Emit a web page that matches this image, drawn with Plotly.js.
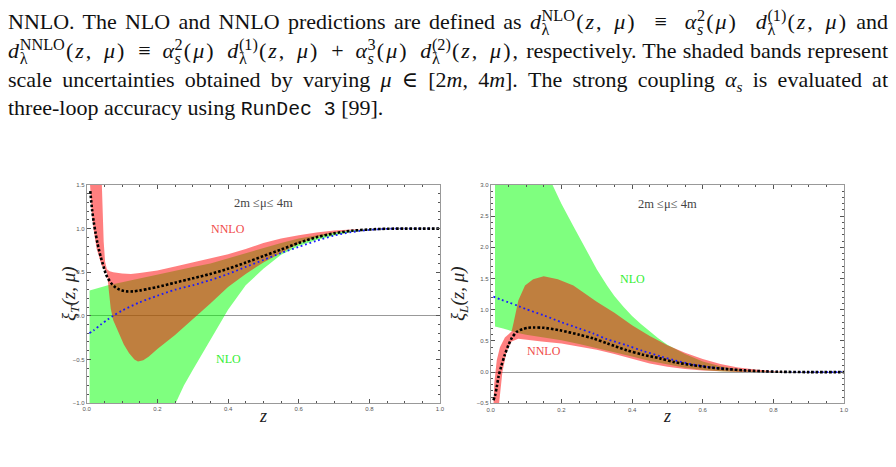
<!DOCTYPE html>
<html>
<head>
<meta charset="utf-8">
<script src="https://cdn.plot.ly/plotly-3.0.1.min.js"></script>
<style>
  html, body { margin: 0; padding: 0; background: #fff; }
  #page { position: relative; width: 896px; height: 467px; overflow: hidden; }
  #chart { position: absolute; left: 0; top: 0; width: 896px; height: 467px; }
  .ln { position: absolute; left: 8px; width: 880px; font-family: "Liberation Serif", "DejaVu Serif", serif;
        font-size: 22px; line-height: 28px; color: #111; text-align: justify; text-align-last: justify; }
  .ln.last { text-align: left; text-align-last: left; }
  .m { display: inline-flex; justify-content: space-between; align-items: baseline; white-space: nowrap;
       text-align: left; text-align-last: auto; vertical-align: baseline; }
  .m > span { white-space: nowrap; }
  .ss { display: inline-block; font-size: 0.74em; line-height: 0.84; vertical-align: -0.34em; margin-left: 0.04em; }
  .ss span { display: block; }
  .arg { word-spacing: 0.15em; letter-spacing: 0.09em; margin-left: 0.05em; }
  .tt { font-family: "Liberation Mono", "DejaVu Sans Mono", monospace; font-size: 0.9em; }
</style>
</head>
<body>
<div id="page">
  <div id="chart"></div>
  <div class="ln" style="top:8px">NNLO. The NLO and NNLO predictions are defined as <span class="m" style="width:318px"><span><i>d</i><span class="ss"><span>NLO</span><span>λ</span></span><span class="arg">(<i>z</i>, <i>μ</i>)</span></span><span>≡</span><span><i>α</i><span class="ss"><span>2</span><span><i>s</i></span></span><span class="arg">(<i>μ</i>)</span></span><span><i>d</i><span class="ss"><span>(1)</span><span>λ</span></span><span class="arg">(<i>z</i>, <i>μ</i>)</span></span></span> and</div>
  <div class="ln" style="top:37px"><span class="m" style="width:512px"><span><i>d</i><span class="ss"><span>NNLO</span><span>λ</span></span><span class="arg">(<i>z</i>, <i>μ</i>)</span></span><span>≡</span><span><i>α</i><span class="ss"><span>2</span><span><i>s</i></span></span><span class="arg">(<i>μ</i>)</span></span><span><i>d</i><span class="ss"><span>(1)</span><span>λ</span></span><span class="arg">(<i>z</i>, <i>μ</i>)</span></span><span>+</span><span><i>α</i><span class="ss"><span>3</span><span><i>s</i></span></span><span class="arg">(<i>μ</i>)</span></span><span><i>d</i><span class="ss"><span>(2)</span><span>λ</span></span><span class="arg">(<i>z</i>, <i>μ</i>),</span></span></span> respectively. The shaded bands represent</div>
  <div class="ln" style="top:66px">scale uncertainties obtained by varying <span style="white-space:nowrap"><i>μ</i> ∈ [2<i>m</i>, 4<i>m</i>].</span> The strong coupling <span style="white-space:nowrap"><i>α<sub style="font-size:0.7em">s</sub></i></span> is evaluated at</div>
  <div class="ln last" style="top:94px">three-loop accuracy using <span class="tt">RunDec 3</span> [99].</div>
</div>
<script>
// ---------- transverse fragmentation ratio xi_T(z, mu) ----------
// NLO scale band (mu = 2m ... 4m)
const zT_nloUp = [0.008, 0.03, 0.06, 0.1, 0.15, 0.2, 0.25, 0.3, 0.35, 0.4, 0.45, 0.5, 0.55, 0.6, 0.65, 0.7, 0.75, 0.8, 0.85, 0.9, 0.95, 1.0];
const T_nloUp  = [0.29, 0.315, 0.35, 0.385, 0.43, 0.47, 0.52, 0.56, 0.60, 0.66, 0.72, 0.78, 0.835, 0.885, 0.925, 0.958, 0.982, 0.995, 1.0, 1.0, 1.0, 1.0];
const zT_nloLo = [0.008, 0.1, 0.2, 0.25, 0.275, 0.3, 0.325, 0.35, 0.375, 0.4, 0.45, 0.5, 0.55, 0.6, 0.65, 0.7, 0.75, 0.8, 0.85, 0.9, 0.95, 1.0];
const T_nloLo  = [-3.5, -2.6, -1.45, -1.0, -0.80, -0.62, -0.45, -0.28, -0.1, 0.07, 0.35, 0.54, 0.70, 0.80, 0.87, 0.92, 0.96, 0.985, 0.996, 1.0, 1.0, 1.0];
// NNLO scale band
const zT_nnloUp = [0.008, 0.03, 0.042, 0.045, 0.048, 0.052, 0.057, 0.065, 0.075, 0.1, 0.125, 0.15, 0.2, 0.25, 0.3, 0.35, 0.4, 0.45, 0.5, 0.55, 0.6, 0.65, 0.7, 0.75, 0.8, 0.85, 0.9, 0.95, 1.0];
const T_nnloUp  = [4.0, 3.0, 1.6, 1.2, 0.85, 0.62, 0.535, 0.51, 0.50, 0.485, 0.48, 0.49, 0.52, 0.565, 0.61, 0.655, 0.705, 0.765, 0.835, 0.885, 0.925, 0.955, 0.977, 0.99, 0.998, 1.0, 1.0, 1.0, 1.0];
const zT_nnloLo = [0.008, 0.0094, 0.014, 0.019, 0.028, 0.042, 0.057, 0.062, 0.068, 0.075, 0.09, 0.105, 0.12, 0.135, 0.145, 0.16, 0.175, 0.2, 0.25, 0.3, 0.35, 0.4, 0.45, 0.5, 0.55, 0.6, 0.65, 0.7, 0.75, 0.8, 0.85, 0.9, 0.95, 1.0];
const T_nnloLo  = [1.65, 1.5, 1.2, 1.0, 0.77, 0.58, 0.50, 0.30, 0.08, -0.05, -0.2, -0.33, -0.43, -0.50, -0.525, -0.51, -0.47, -0.38, -0.22, -0.04, 0.14, 0.33, 0.48, 0.61, 0.72, 0.83, 0.90, 0.95, 0.98, 0.995, 1.0, 1.0, 1.0, 1.0];
// central values
const zT_nnlo = [0.01, 0.015, 0.02, 0.025, 0.03, 0.035, 0.04, 0.045, 0.05, 0.055, 0.06, 0.07, 0.08, 0.09, 0.1, 0.113, 0.13, 0.15, 0.175, 0.2, 0.25, 0.3, 0.35, 0.4, 0.45, 0.5, 0.55, 0.6, 0.65, 0.7, 0.75, 0.8, 0.85, 0.9, 0.95, 1.0];
const T_nnlo  = [1.43, 1.22, 1.07, 0.95, 0.84, 0.75, 0.67, 0.60, 0.53, 0.47, 0.43, 0.37, 0.33, 0.305, 0.29, 0.28, 0.28, 0.29, 0.31, 0.33, 0.38, 0.43, 0.48, 0.54, 0.61, 0.685, 0.76, 0.835, 0.9, 0.945, 0.975, 0.99, 0.998, 1.0, 1.0, 1.0];
const zT_nlo = [0.0075, 0.02, 0.04, 0.06, 0.075, 0.1, 0.15, 0.2, 0.25, 0.3, 0.35, 0.4, 0.45, 0.5, 0.55, 0.6, 0.65, 0.7, 0.75, 0.8, 0.85, 0.9, 0.95, 1.0];
const T_nlo  = [-0.2, -0.165, -0.1, -0.04, 0.0, 0.06, 0.155, 0.23, 0.30, 0.35, 0.41, 0.48, 0.56, 0.64, 0.72, 0.79, 0.86, 0.92, 0.96, 0.985, 0.997, 1.0, 1.0, 1.0];

// ---------- longitudinal fragmentation ratio xi_L(z, mu) ----------
const zL_nloUp = [0.012, 0.1, 0.15, 0.175, 0.2, 0.234, 0.26, 0.28, 0.3, 0.33, 0.35, 0.375, 0.4, 0.425, 0.45, 0.475, 0.5, 0.525, 0.55, 0.6, 0.65, 0.7, 0.75, 0.8, 0.85, 0.9, 1.0];
const L_nloUp  = [5.5, 4.2, 3.3, 3.0, 2.70, 2.34, 2.06, 1.85, 1.65, 1.38, 1.22, 1.05, 0.90, 0.77, 0.65, 0.54, 0.44, 0.36, 0.29, 0.17, 0.095, 0.045, 0.018, 0.005, 0.0, 0.0, 0.0];
const zL_nloLo = [0.012, 0.035, 0.059, 0.08, 0.1, 0.15, 0.2, 0.25, 0.3, 0.35, 0.4, 0.45, 0.5, 0.55, 0.6, 0.65, 0.7, 0.75, 0.8, 0.9, 1.0];
const L_nloLo  = [0.73, 0.70, 0.665, 0.625, 0.60, 0.55, 0.51, 0.45, 0.39, 0.32, 0.25, 0.18, 0.12, 0.07, 0.035, 0.015, 0.005, 0.0, 0.0, 0.0, 0.0];
const zL_nnloUp = [0.005, 0.007, 0.01, 0.017, 0.026, 0.04, 0.059, 0.065, 0.078, 0.097, 0.12, 0.15, 0.19, 0.234, 0.28, 0.3, 0.35, 0.4, 0.45, 0.5, 0.55, 0.6, 0.65, 0.7, 0.75, 0.8, 0.85, 0.9, 1.0];
const L_nnloUp  = [-1.0, -0.5, -0.18, 0.19, 0.40, 0.555, 0.65, 0.80, 1.15, 1.39, 1.49, 1.535, 1.49, 1.39, 1.21, 1.13, 0.95, 0.75, 0.58, 0.43, 0.31, 0.21, 0.13, 0.075, 0.04, 0.015, 0.003, 0.0, 0.0];
const zL_nnloLo = [0.005, 0.018, 0.022, 0.033, 0.045, 0.059, 0.078, 0.1, 0.144, 0.2, 0.25, 0.3, 0.35, 0.4, 0.45, 0.5, 0.55, 0.6, 0.65, 0.7, 0.8, 0.9, 1.0];
const L_nnloLo  = [-1.5, -0.8, -0.5, 0.0, 0.33, 0.49, 0.535, 0.52, 0.49, 0.46, 0.41, 0.36, 0.29, 0.22, 0.14, 0.085, 0.05, 0.025, 0.01, 0.0, 0.0, 0.0, 0.0];
const zL_nnlo = [0.0075, 0.012, 0.017, 0.022, 0.03, 0.04, 0.05, 0.06, 0.074, 0.09, 0.105, 0.12, 0.15, 0.196, 0.25, 0.29, 0.33, 0.385, 0.43, 0.479, 0.52, 0.573, 0.62, 0.668, 0.72, 0.77, 0.82, 0.9, 1.0];
const L_nnlo  = [-0.45, -0.38, -0.24, -0.075, 0.1, 0.28, 0.43, 0.55, 0.646, 0.69, 0.71, 0.715, 0.71, 0.67, 0.60, 0.54, 0.46, 0.35, 0.28, 0.22, 0.16, 0.11, 0.075, 0.048, 0.028, 0.013, 0.005, 0.0, 0.0];
const zL_nlo = [0.0075, 0.03, 0.05, 0.078, 0.1, 0.15, 0.2, 0.25, 0.29, 0.328, 0.385, 0.43, 0.479, 0.52, 0.573, 0.62, 0.668, 0.71, 0.762, 0.82, 0.9, 1.0];
const L_nlo  = [1.21, 1.16, 1.12, 1.06, 1.01, 0.91, 0.80, 0.70, 0.62, 0.53, 0.43, 0.34, 0.256, 0.19, 0.12, 0.08, 0.053, 0.03, 0.016, 0.005, 0.0, 0.0];

// axis tick labels and panel texts
const xTickVals = [0, 0.2, 0.4, 0.6, 0.8, 1.0];
const xTickText = ['0.0', '0.2', '0.4', '0.6', '0.8', '1.0'];
const yTickValsT = [-1.0, -0.5, 0.0, 0.5, 1.0, 1.5];
const yTickTextT = ['\u22121.0', '\u22120.5', '0.0', '0.5', '1.0', '1.5'];
const yTickValsL = [-0.5, 0.0, 0.5, 1.0, 1.5, 2.0, 2.5, 3.0];
const yTickTextL = ['\u22120.5', '0.0', '0.5', '1.0', '1.5', '2.0', '2.5', '3.0'];
const rangeText = '2m \u2264\u03bc\u2264 4m';

const GREEN = 'rgba(0,255,0,0.5)';
const RED = 'rgba(255,0,0,0.5)';

function band(zUp, yUp, zLo, yLo, color, xa, ya) {
  return {
    x: zUp.concat(zLo.slice().reverse()),
    y: yUp.concat(yLo.slice().reverse()),
    xaxis: xa, yaxis: ya, type: 'scatter', mode: 'lines',
    fill: 'toself', fillcolor: color,
    line: { width: 0, color: 'rgba(0,0,0,0)' }, hoverinfo: 'skip', showlegend: false
  };
}
function dotted(z, y, color, width, dash, xa, ya) {
  return {
    x: z, y: y, xaxis: xa, yaxis: ya, type: 'scatter', mode: 'lines',
    line: { color: color, width: width, dash: dash, shape: 'spline', smoothing: 0.8 },
    hoverinfo: 'skip', showlegend: false
  };
}

const traces = [
  band(zT_nloUp, T_nloUp, zT_nloLo, T_nloLo, GREEN, 'x', 'y'),
  band(zT_nnloUp, T_nnloUp, zT_nnloLo, T_nnloLo, RED, 'x', 'y'),
  dotted(zT_nlo, T_nlo, '#1a1aff', 1.8, '1.8px,2.8px', 'x', 'y'),
  dotted(zT_nnlo, T_nnlo, '#000000', 2.6, '2.6px,1.9px', 'x', 'y'),
  band(zL_nloUp, L_nloUp, zL_nloLo, L_nloLo, GREEN, 'x2', 'y2'),
  band(zL_nnloUp, L_nnloUp, zL_nnloLo, L_nnloLo, RED, 'x2', 'y2'),
  dotted(zL_nlo, L_nlo, '#1a1aff', 1.8, '1.8px,2.8px', 'x2', 'y2'),
  dotted(zL_nnlo, L_nnlo, '#000000', 2.6, '2.6px,1.9px', 'x2', 'y2')
];

const tickFont = { family: 'Liberation Sans, DejaVu Sans, sans-serif', size: 6, color: '#555' };
function xAxis(domain, anchor) {
  return {
    domain: domain, anchor: anchor, range: [0, 1], fixedrange: true,
    tickmode: 'array', tickvals: xTickVals, ticktext: xTickText,
    ticks: 'inside', ticklen: 4, tickwidth: 1, tickcolor: '#555',
    minor: { dtick: 0.05, tick0: 0, ticks: 'inside', ticklen: 2, tickcolor: '#555', showgrid: false },
    showline: true, linecolor: '#999', linewidth: 1, mirror: 'allticks',
    showgrid: false, zeroline: false, tickfont: tickFont
  };
}
function yAxis(domain, anchor, range, vals, text) {
  return {
    domain: domain, anchor: anchor, range: range, fixedrange: true,
    tickmode: 'array', tickvals: vals, ticktext: text,
    ticks: 'inside', ticklen: 4, tickwidth: 1, tickcolor: '#555',
    minor: { dtick: 0.1, tick0: 0, ticks: 'inside', ticklen: 2, tickcolor: '#555', showgrid: false },
    showline: true, linecolor: '#999', linewidth: 1, mirror: 'allticks',
    showgrid: false, zeroline: true, zerolinecolor: '#999', zerolinewidth: 1, tickfont: tickFont
  };
}

const serif = '"Liberation Serif", "DejaVu Serif", serif';
const annotations = [
  { xref: 'x', yref: 'y', x: 0.5, y: 1.29, text: rangeText, showarrow: false, font: { family: serif, size: 12.5, color: '#444' } },
  { xref: 'x', yref: 'y', x: 0.4, y: 1.0, text: 'NNLO', showarrow: false, font: { family: serif, size: 12, color: '#f04a4a' } },
  { xref: 'x', yref: 'y', x: 0.4, y: -0.5, text: 'NLO', showarrow: false, font: { family: serif, size: 12, color: '#33ee33' } },
  { xref: 'x2', yref: 'y2', x: 0.5, y: 2.69, text: rangeText, showarrow: false, font: { family: serif, size: 12.5, color: '#444' } },
  { xref: 'x2', yref: 'y2', x: 0.4, y: 1.5, text: 'NLO', showarrow: false, font: { family: serif, size: 12, color: '#33ee33' } },
  { xref: 'x2', yref: 'y2', x: 0.15, y: 0.34, text: 'NNLO', showarrow: false, font: { family: serif, size: 12, color: '#f04a4a' } },
  // axis titles
  { xref: 'paper', yref: 'paper', x: 0.0625, y: 0.3704, textangle: -90, showarrow: false,
    text: '<i>\u03be<sub>T</sub>(z, \u03bc)</i>', font: { family: serif, size: 19, color: '#222' } },
  { xref: 'paper', yref: 'paper', x: 0.5123, y: 0.3704, textangle: -90, showarrow: false,
    text: '<i>\u03be<sub>L</sub>(z, \u03bc)</i>', font: { family: serif, size: 19, color: '#222' } },
  { xref: 'x domain', yref: 'paper', x: 0.5, y: 0.0829, showarrow: false,
    text: '<i>z</i>', font: { family: serif, size: 18, color: '#222' } },
  { xref: 'x2 domain', yref: 'paper', x: 0.5, y: 0.0829, showarrow: false,
    text: '<i>z</i>', font: { family: serif, size: 18, color: '#222' } }
];

const layout = {
  width: 896, height: 467,
  margin: { l: 0, r: 0, t: 0, b: 0 },
  paper_bgcolor: 'rgba(0,0,0,0)', plot_bgcolor: 'rgba(0,0,0,0)',
  showlegend: false,
  xaxis: xAxis([0.0968, 0.4911], 'y'),
  yaxis: yAxis([0.137, 0.6039], 'x', [-1, 1.5], yTickValsT, yTickTextT),
  xaxis2: xAxis([0.5477, 0.942], 'y2'),
  yaxis2: yAxis([0.1364, 0.6039], 'x2', [-0.5, 3], yTickValsL, yTickTextL),
  annotations: annotations
};

Plotly.newPlot('chart', traces, layout, { staticPlot: true, displayModeBar: false });
</script>
</body>
</html>
